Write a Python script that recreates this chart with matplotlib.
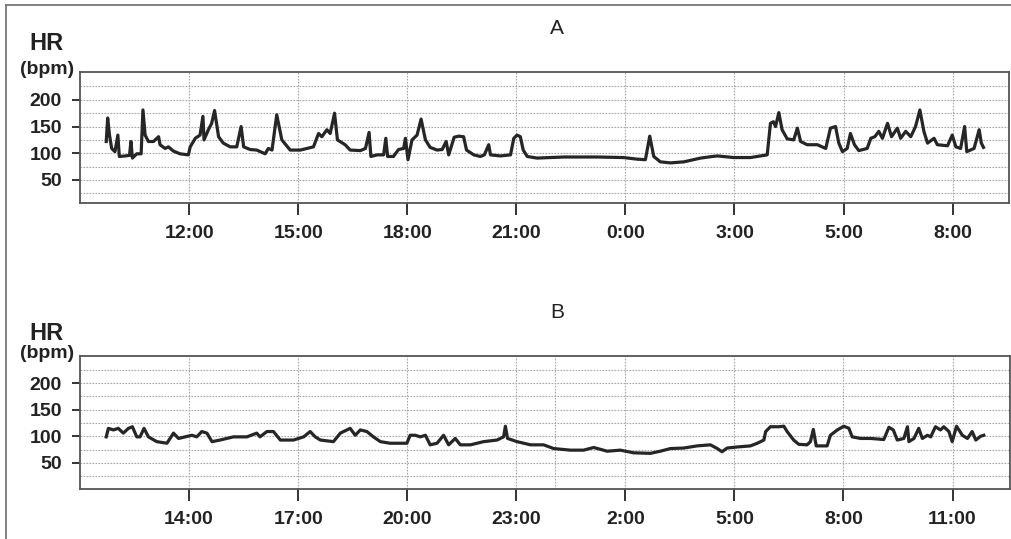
import matplotlib
matplotlib.use("Agg")
import matplotlib.pyplot as plt
from matplotlib.lines import Line2D

plt.rcParams['font.family'] = ['Liberation Sans', 'DejaVu Sans']

# --- panel A: hours since midnight of day 1, heart rate (bpm) ---
a_hours = [9.72, 9.76, 9.81, 9.87, 9.96, 10.04, 10.08, 10.24, 10.36, 10.40, 10.44, 10.56,
           10.68, 10.73, 10.79, 10.88, 11.02, 11.16, 11.20, 11.34, 11.43, 11.57, 11.75,
           11.98, 12.03, 12.17, 12.30, 12.38, 12.41, 12.53, 12.62, 12.70, 12.81, 12.94,
           13.13, 13.31, 13.43, 13.50, 13.68, 13.86, 14.09, 14.18, 14.28, 14.41, 14.55,
           14.78, 15.06, 15.42, 15.56, 15.65, 15.79, 15.88, 16.00, 16.08, 16.29, 16.43,
           16.71, 16.85, 16.95, 17.00, 17.17, 17.35, 17.41, 17.46, 17.62, 17.76, 17.90,
           17.95, 18.02, 18.13, 18.27, 18.38, 18.50, 18.63, 18.82, 18.96, 19.07, 19.14,
           19.29, 19.41, 19.55, 19.63, 19.83, 20.01, 20.12, 20.24, 20.29, 20.56, 20.84,
           20.93, 21.02, 21.11, 21.19, 21.30, 21.57, 22.30, 23.22, 23.95, 24.32, 24.55,
           24.67, 24.78, 24.96, 25.24, 25.61, 26.07, 26.39, 26.53, 26.98, 27.44, 27.90,
           27.99, 28.07, 28.13, 28.22, 28.31, 28.45, 28.63, 28.73, 28.82, 29.00, 29.28,
           29.51, 29.64, 29.78, 29.87, 29.97, 30.10, 30.19, 30.30, 30.42, 30.65, 30.75,
           30.86, 30.97, 31.07, 31.21, 31.32, 31.48, 31.57, 31.71, 31.85, 31.98, 32.10,
           32.21, 32.31, 32.49, 32.58, 32.86, 32.99, 33.09, 33.22, 33.33, 33.39, 33.59,
           33.73, 33.79, 33.85]
a_hr = [122, 166, 134, 109, 103, 134, 94, 95, 96, 122, 91, 99,
        99, 181, 134, 122, 122, 131, 116, 109, 112, 104, 99,
        97, 112, 128, 134, 169, 125, 144, 156, 180, 131, 119,
        112, 112, 150, 112, 107, 106, 99, 109, 106, 172, 125,
        106, 106, 112, 137, 131, 144, 137, 175, 125, 116, 106,
        105, 109, 139, 94, 97, 97, 128, 94, 94, 107, 109,
        128, 88, 125, 134, 164, 125, 111, 106, 107, 122, 97,
        130, 132, 131, 106, 97, 94, 97, 116, 97, 95, 97,
        128, 134, 131, 106, 94, 91, 93, 93, 92, 89, 88,
        132, 94, 84, 82, 84, 91, 94, 95, 92, 92, 97,
        156, 159, 150, 176, 144, 127, 125, 147, 122, 116, 116,
        109, 147, 150, 119, 103, 109, 137, 116, 105, 109, 128,
        131, 141, 128, 156, 131, 147, 128, 141, 131, 150, 181,
        141, 119, 128, 116, 114, 134, 112, 109, 150, 103, 109,
        144, 119, 111]
a_ticks = [12, 15, 18, 21, 24, 27, 30, 33]
a_labels = ['12:00', '15:00', '18:00', '21:00', '0:00', '3:00', '5:00', '8:00']

# --- panel B ---
b_hours = [11.72, 11.78, 11.92, 12.05, 12.19, 12.33, 12.44, 12.56, 12.65, 12.76, 12.88,
           13.11, 13.39, 13.57, 13.71, 13.89, 14.08, 14.21, 14.35, 14.49, 14.63, 14.85,
           15.22, 15.59, 15.86, 15.95, 16.14, 16.32, 16.51, 16.87, 17.15, 17.33, 17.47,
           17.61, 17.97, 18.16, 18.43, 18.57, 18.71, 18.89, 19.07, 19.26, 19.53, 19.99,
           20.08, 20.22, 20.36, 20.50, 20.63, 20.82, 21.00, 21.14, 21.32, 21.46, 21.74,
           22.10, 22.47, 22.65, 22.70, 22.76, 23.02, 23.39, 23.75, 24.03, 24.49, 24.85,
           25.13, 25.50, 25.86, 26.23, 26.69, 26.96, 27.24, 27.61, 27.97, 28.34, 28.53,
           28.66, 28.80, 29.08, 29.44, 29.63, 29.81, 29.86, 29.99, 30.22, 30.36, 30.45,
           30.63, 30.77, 31.00, 31.09, 31.17, 31.25, 31.55, 31.64, 31.83, 32.01, 32.15,
           32.24, 32.47, 32.75, 33.11, 33.25, 33.37, 33.48, 33.66, 33.76, 33.80, 33.94,
           34.07, 34.17, 34.31, 34.40, 34.53, 34.67, 34.76, 34.90, 34.99, 35.11, 35.27,
           35.41, 35.54, 35.64, 35.77, 35.86]
b_hr = [99, 115, 112, 115, 106, 115, 118, 99, 99, 115, 99,
        90, 87, 106, 96, 99, 102, 99, 109, 106, 90, 93,
        99, 99, 106, 99, 109, 109, 93, 93, 99, 109, 99,
        93, 90, 106, 115, 102, 112, 109, 99, 90, 87, 87,
        102, 102, 99, 102, 84, 87, 102, 84, 96, 84, 84,
        90, 93, 99, 119, 96, 90, 84, 84, 77, 74, 74,
        79, 72, 74, 69, 68, 72, 77, 78, 82, 84, 77,
        71, 78, 80, 82, 87, 93, 109, 118, 118, 119, 109,
        93, 85, 84, 90, 113, 82, 82, 102, 112, 119, 115,
        99, 96, 96, 94, 117, 112, 93, 96, 118, 90, 96,
        115, 96, 102, 99, 118, 112, 118, 109, 90, 119, 102,
        96, 109, 93, 100, 102]
b_ticks = [14, 17, 20, 23, 26, 29, 32, 35]
b_labels = ['14:00', '17:00', '20:00', '23:00', '2:00', '5:00', '8:00', '11:00']

y_ticks = [50, 100, 150, 200]
y_grid = [25, 50, 75, 100, 125, 150, 175, 200, 225]

fig = plt.figure(figsize=(10.12, 5.39), dpi=100)
ax_a = fig.add_axes([0.0791, 0.6234, 0.9179, 0.2430])
ax_b = fig.add_axes([0.0791, 0.0928, 0.9189, 0.2467])

panels = [
    (ax_a, a_hours, a_hr, a_ticks, a_labels, (9.0, 34.55), (7, 252)),
    (ax_b, b_hours, b_hr, b_ticks, b_labels, (11.0, 36.58), (1, 251)),
]

grid_kw = dict(color='#a8a8a8', lw=0.8, ls=(0, (1.5, 1.2)), zorder=1)

for ax, hrs, hr, ticks, labels, xlim, ylim in panels:
    for g in y_grid:
        ax.axhline(g, **grid_kw)
    for t in ticks:
        ax.axvline(t, **grid_kw)
    ax.plot(hrs, hr, color='#262626', lw=2.3, solid_joinstyle='round', zorder=3)
    ax.set_xlim(*xlim)
    ax.set_ylim(*ylim)
    ax.set_xticks(ticks)
    ax.set_xticklabels(labels, fontsize=14, fontweight='bold', color='#222222')
    ax.set_yticks(y_ticks)
    ax.set_yticklabels([str(v) for v in y_ticks], fontsize=14, fontweight='bold',
                       color='#222222')
    ax.tick_params(axis='x', length=8.5, width=1.4, pad=7, color='#333333')
    ax.tick_params(axis='y', length=6, width=1.4, pad=7, color='#333333')
    for s in ax.spines.values():
        s.set_color('#555555')
        s.set_linewidth(1.3)

# extra dotted line seen in the lower panel
ax_b.axvline(24.07, **grid_kw)

# labels
fig.text(46 / 1012, 1 - 43 / 539, 'HR', fontsize=17, fontweight='bold',
         ha='center', va='center', color='#222222')
fig.text(47 / 1012, 1 - 69 / 539, '(bpm)', fontsize=14, fontweight='bold',
         ha='center', va='center', color='#222222')
fig.text(46 / 1012, 1 - 333 / 539, 'HR', fontsize=17, fontweight='bold',
         ha='center', va='center', color='#222222')
fig.text(47 / 1012, 1 - 354 / 539, '(bpm)', fontsize=14, fontweight='bold',
         ha='center', va='center', color='#222222')
fig.text(557 / 1012, 1 - 29 / 539, 'A', fontsize=15, ha='center', va='center',
         color='#222222')
fig.text(557 / 1012, 1 - 313 / 539, 'B', fontsize=15, ha='center', va='center',
         color='#222222')

# outer frame (top and left edges)
fig.add_artist(Line2D([6 / 1012, 1.0], [1 - 5 / 539, 1 - 5 / 539],
                      transform=fig.transFigure, color='#777777', lw=1.3))
fig.add_artist(Line2D([6 / 1012, 6 / 1012], [0.0, 1 - 5 / 539],
                      transform=fig.transFigure, color='#777777', lw=1.3))

fig.savefig('out.png', dpi=100, facecolor='white')
